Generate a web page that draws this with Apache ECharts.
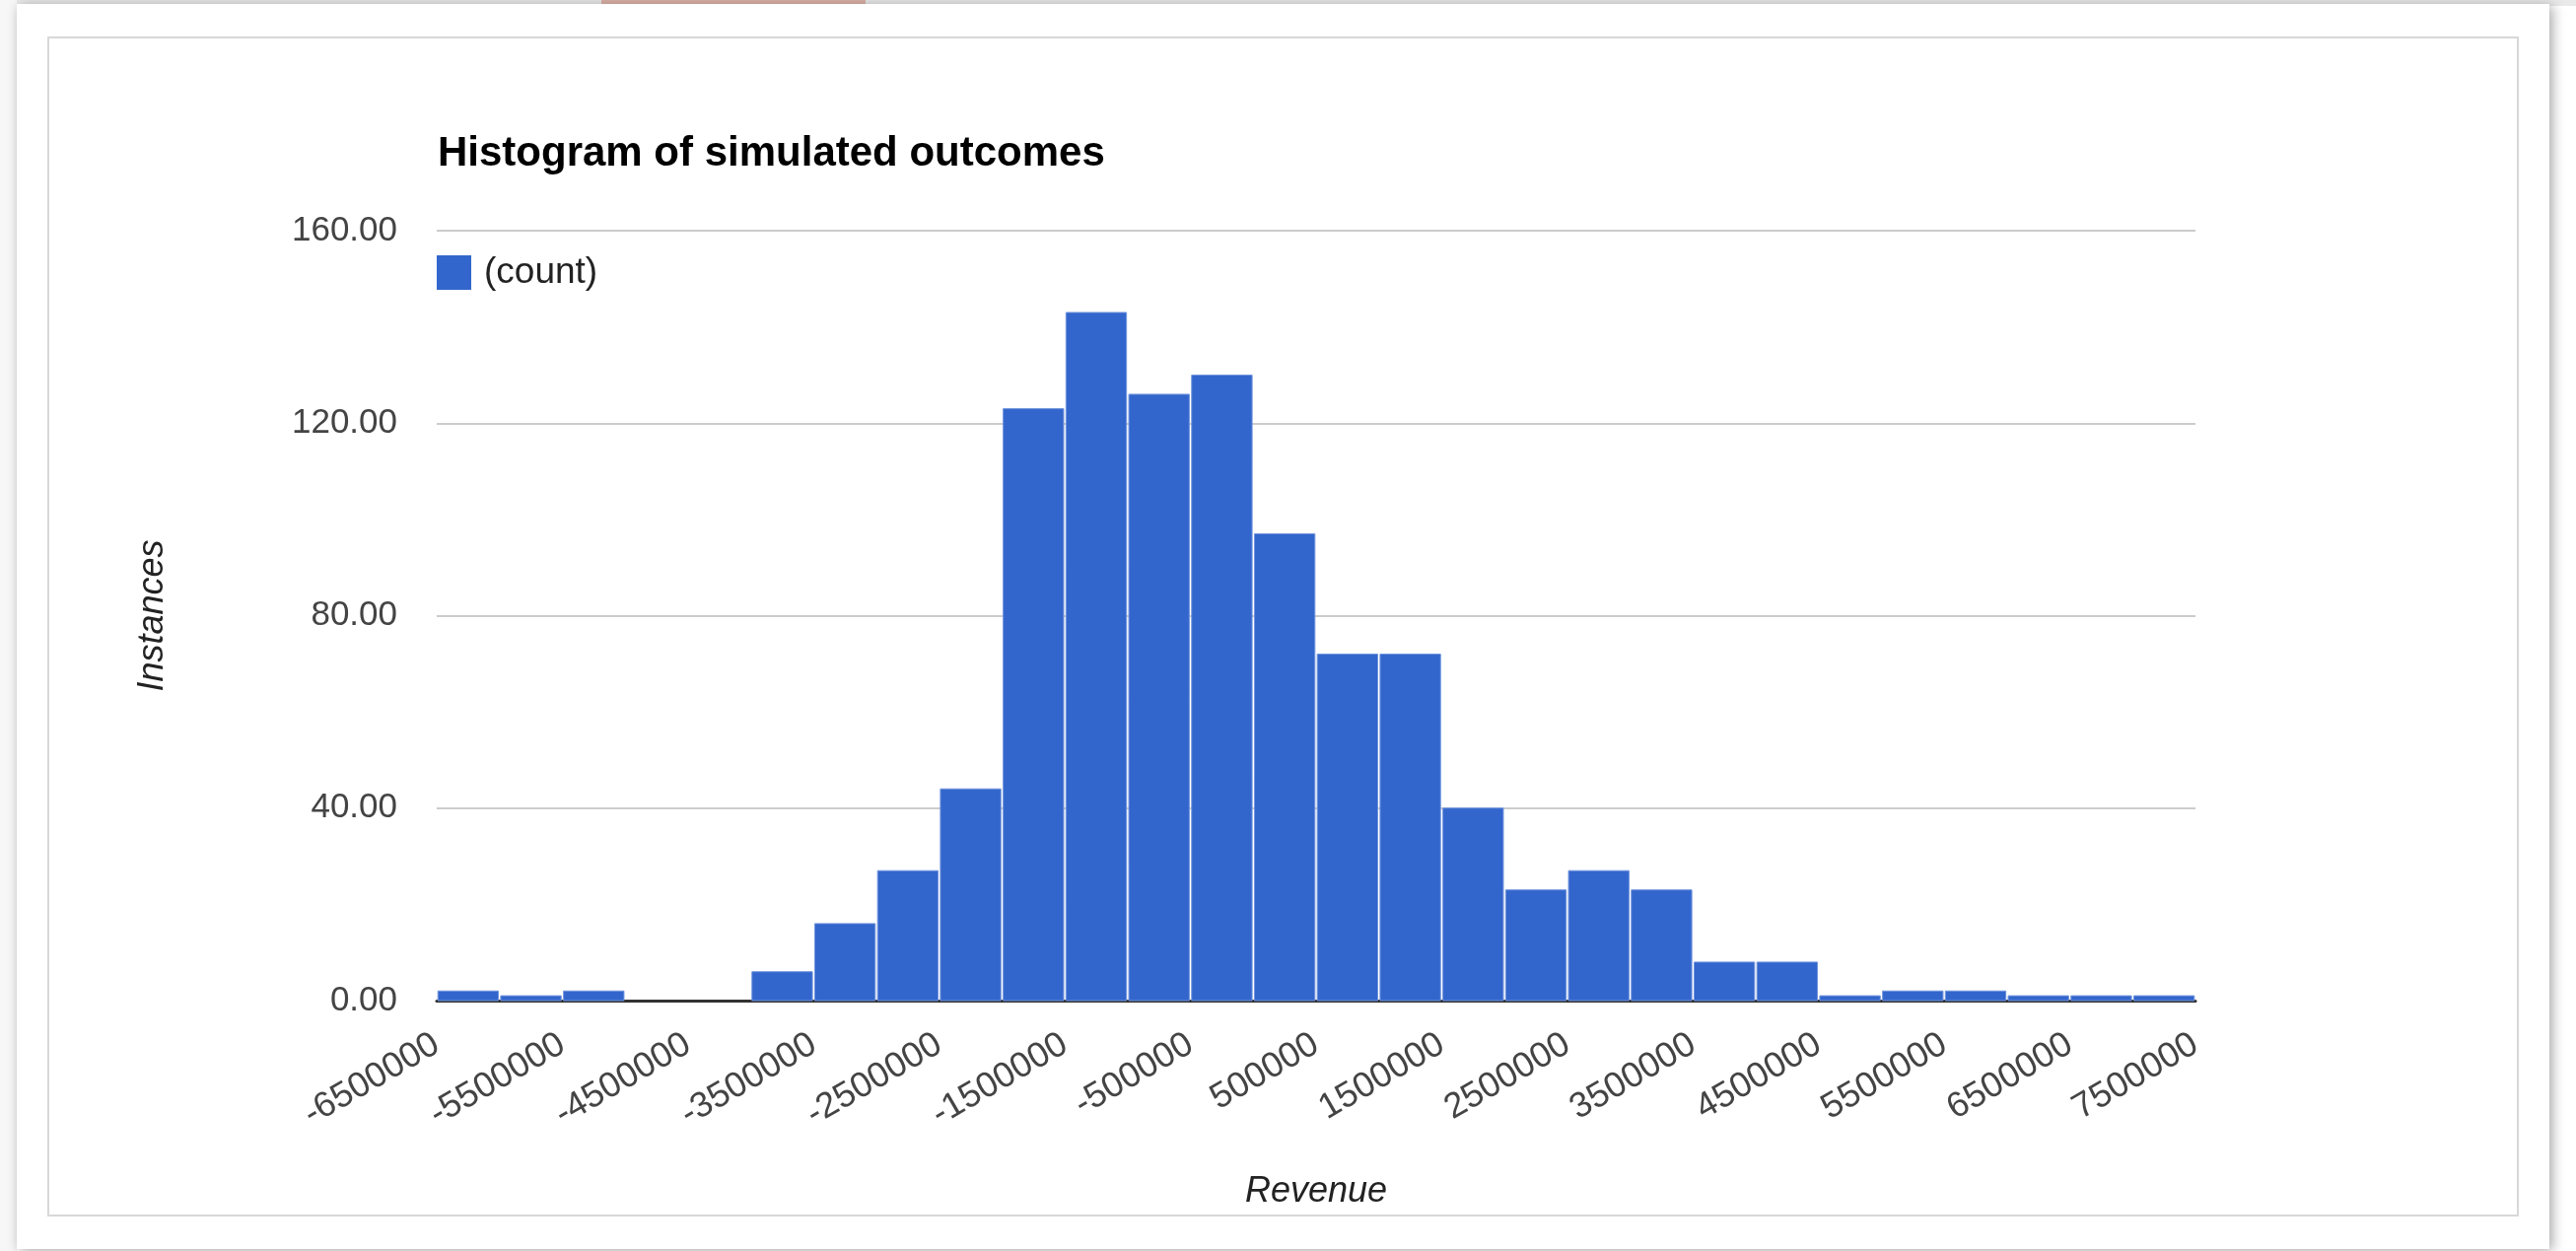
<!DOCTYPE html>
<html><head><meta charset="utf-8">
<script src="https://cdn.jsdelivr.net/npm/echarts@6/dist/echarts.min.js"></script>
<style>html,body{margin:0;padding:0;background:#fff;overflow:hidden}#chart{width:2613px;height:1269px}</style>
</head><body><div id="chart"></div>
<script>
// ---- data ----
const chartTitle = 'Histogram of simulated outcomes';
const seriesName = '(count)';
const xAxisTitle = 'Revenue';
const yAxisTitle = 'Instances';
const binWidth = 500000;
const binStarts = [-6500000,-6000000,-5500000,-5000000,-4500000,-4000000,-3500000,-3000000,-2500000,-2000000,
  -1500000,-1000000,-500000,0,500000,1000000,1500000,2000000,2500000,3000000,
  3500000,4000000,4500000,5000000,5500000,6000000,6500000,7000000];
const counts = [2,1,2,0,0,6,16,27,44,123,143,126,130,97,72,72,40,23,27,23,8,8,1,2,2,1,1,1];
const xMin = -6500000, xMax = 7500000, xStep = 1000000;
const yMin = 0, yMax = 160, yStep = 40;

const FONT = '"Liberation Sans", Arial, Helvetica, sans-serif';
const chart = echarts.init(document.getElementById('chart'), null, {renderer:'canvas'});

const option = {
  backgroundColor: '#ffffff',
  animation: false,
  title: {
    text: chartTitle, left: 439, top: 130,
    textStyle: {fontFamily: FONT, fontSize: 42, fontWeight: 'bold', color: '#000'}
  },
  legend: {
    left: 443, top: 258, padding: 0, itemWidth: 35, itemHeight: 35,
    data: [{name: seriesName, icon: 'rect'}],
    textStyle: {fontFamily: FONT, fontSize: 37, color: '#222', padding: [0,0,0,8]}
  },
  grid: {left: 443, top: 234, width: 1784, height: 781, containLabel: false, outerBoundsMode: 'none'},
  xAxis: {
    type: 'value', min: xMin, max: xMax, interval: xStep,
    name: xAxisTitle, nameLocation: 'middle', nameGap: 176,
    nameTextStyle: {fontFamily: FONT, fontSize: 36, fontStyle: 'italic', color: '#222'},
    axisLine: {show: true, onZero: true, lineStyle: {color: '#333', width: 3}},
    axisTick: {show: false},
    splitLine: {show: false},
    axisLabel: {rotate: 30, margin: 42, fontFamily: FONT, fontSize: 36, color: '#444',
      showMinLabel: true, showMaxLabel: true, hideOverlap: false,
      formatter: v => String(v)}
  },
  yAxis: {
    type: 'value', min: yMin, max: yMax, interval: yStep,
    name: yAxisTitle, nameLocation: 'middle', nameGap: 270,
    nameTextStyle: {fontFamily: FONT, fontSize: 36, fontStyle: 'italic', color: '#222'},
    axisLine: {show: false}, axisTick: {show: false},
    splitLine: {show: true, lineStyle: {color: '#cccccc', width: 2}},
    axisLabel: {margin: 40, fontFamily: FONT, fontSize: 35, color: '#444',
      formatter: v => v.toFixed(2)}
  },
  graphic: [
    {type: 'rect', z: -20, silent: true, shape: {x: 0, y: 0, width: 2613, height: 6}, style: {fill: '#e9e9e9'}},
    {type: 'rect', z: -19, silent: true, shape: {x: 610, y: 0, width: 268, height: 6}, style: {fill: '#dcb2a7'}},
    {type: 'rect', z: -20, silent: true, shape: {x: 0, y: 0, width: 17, height: 1269}, style: {fill: '#f7f7f7'}},
    {type: 'rect', z: -18, silent: true, shape: {x: 17, y: 4, width: 2569, height: 1263},
      style: {fill: '#ffffff', shadowBlur: 12, shadowColor: 'rgba(0,0,0,0.35)', shadowOffsetX: 3, shadowOffsetY: 2}},
    {type: 'rect', z: -17, silent: true, shape: {x: 49, y: 38, width: 2505, height: 1195},
      style: {fill: '#ffffff', stroke: '#d8d8d8', lineWidth: 2}}
  ],
  series: [{
    type: 'custom', name: seriesName, z: 3,
    itemStyle: {color: '#3366cc'},
    data: binStarts.map((s, i) => [s, counts[i]]),
    encode: {x: 0, y: 1},
    renderItem: function (params, api) {
      const x0 = api.value(0), v = api.value(1);
      const pA = api.coord([x0, 0]);
      const pB = api.coord([x0 + binWidth, v]);
      return {
        type: 'rect', invisible: v <= 0,
        shape: {x: pA[0] + 1.2, y: pB[1], width: pB[0] - pA[0] - 2.4, height: pA[1] - pB[1]},
        style: {fill: '#3366cc', stroke: '#6f93dd', lineWidth: 1}
      };
    }
  }]
};
chart.setOption(option);
</script>
</body></html>
